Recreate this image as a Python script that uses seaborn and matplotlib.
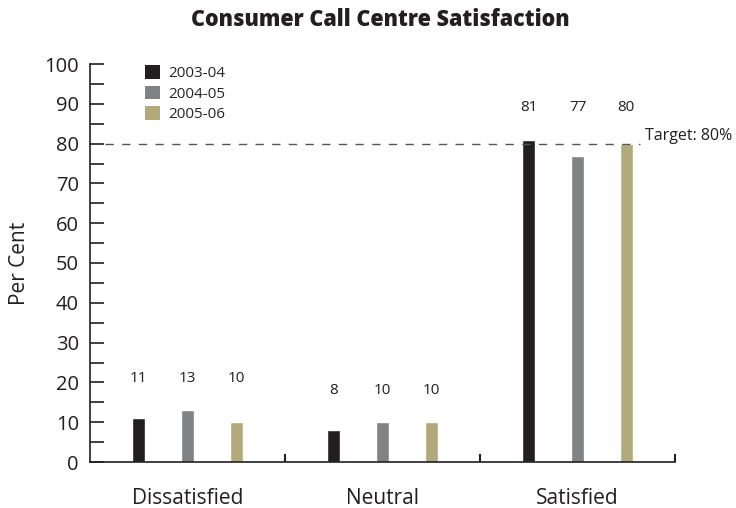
import matplotlib
matplotlib.use("Agg")
import matplotlib.pyplot as plt
import seaborn as sns
import pandas as pd
from matplotlib.patches import Patch

categories = ["Dissatisfied", "Neutral", "Satisfied"]
years = ["2003-04", "2004-05", "2005-06"]
v_2003 = [11, 8, 81]
v_2004 = [13, 10, 77]
v_2005 = [10, 10, 80]
target = 80
colors = ["#231f20", "#808285", "#b2aa7a"]

rows = []
for yr, vals in zip(years, [v_2003, v_2004, v_2005]):
    for c, v in zip(categories, vals):
        rows.append({"category": c, "year": yr, "value": v})
df = pd.DataFrame(rows)

sns.set_theme(style="white")
plt.rcParams["font.family"] = ["Open Sans", "DejaVu Sans"]

fig = plt.figure(figsize=(7.36, 5.08), dpi=100)
ax = fig.add_axes([90/736, 1-462/508, 585/736, 398/508])

sns.barplot(data=df, x="category", y="value", hue="year", order=categories,
            hue_order=years, palette=colors, width=0.75, gap=0.73,
            saturation=1, ax=ax, legend=False)

ax.set_xlim(-0.5, 2.5)
ax.set_ylim(0, 100)

# value labels
for i, c in enumerate(categories):
    vals = [v_2003[i], v_2004[i], v_2005[i]]
    top = max(vals) + 8
    for j, v in enumerate(vals):
        ax.text(i + (j - 1) * 0.25, top, str(v), ha="center", va="center",
                fontsize=11, color="#231f20")

# target line
ax.axhline(target, xmin=0.026, xmax=0.94, color="#555555", lw=1,
           dashes=(6, 6))
ax.text(2.346, target + 2, "Target: 80%", ha="left", va="center",
        fontsize=11.5, color="#231f20", clip_on=False)

# spines & ticks
for s in ["top", "right"]:
    ax.spines[s].set_visible(False)
for s in ["left", "bottom"]:
    ax.spines[s].set_color("#231f20")
    ax.spines[s].set_linewidth(1.2)

ax.set_yticks(range(0, 101, 10))
ax.set_yticks(range(5, 100, 10), minor=True)
ax.tick_params(axis="y", which="both", direction="in", length=10,
               width=1.2, color="#231f20", labelsize=14.5, pad=8,
               labelcolor="#231f20", left=True)
ax.set_xticks([0, 1, 2])
ax.set_xticklabels(categories)
ax.set_xticks([0.5, 1.5, 2.5], minor=True)
ax.tick_params(axis="x", which="major", length=0, labelsize=15,
               pad=19, labelcolor="#231f20")
ax.tick_params(axis="x", which="minor", direction="in", length=6,
               width=1.5, color="#231f20", bottom=True)

ax.set_xlabel("")
ax.set_ylabel("Per Cent", fontsize=15, color="#231f20", labelpad=10)

handles = [Patch(facecolor=c, edgecolor="none") for c in colors]
ax.legend(handles, years, loc="upper left",
          bbox_to_anchor=((145-90)/585, (462-65)/398), frameon=False,
          fontsize=11, handlelength=1.0, handleheight=1.0,
          labelspacing=0.3, handletextpad=0.5, borderpad=0,
          borderaxespad=0)

fig.text(380/736, 1-20/508, "Consumer Call Centre Satisfaction",
         ha="center", va="center", fontsize=15.5, fontweight="heavy",
         color="#231f20")

fig.savefig("out.png", dpi=100)
